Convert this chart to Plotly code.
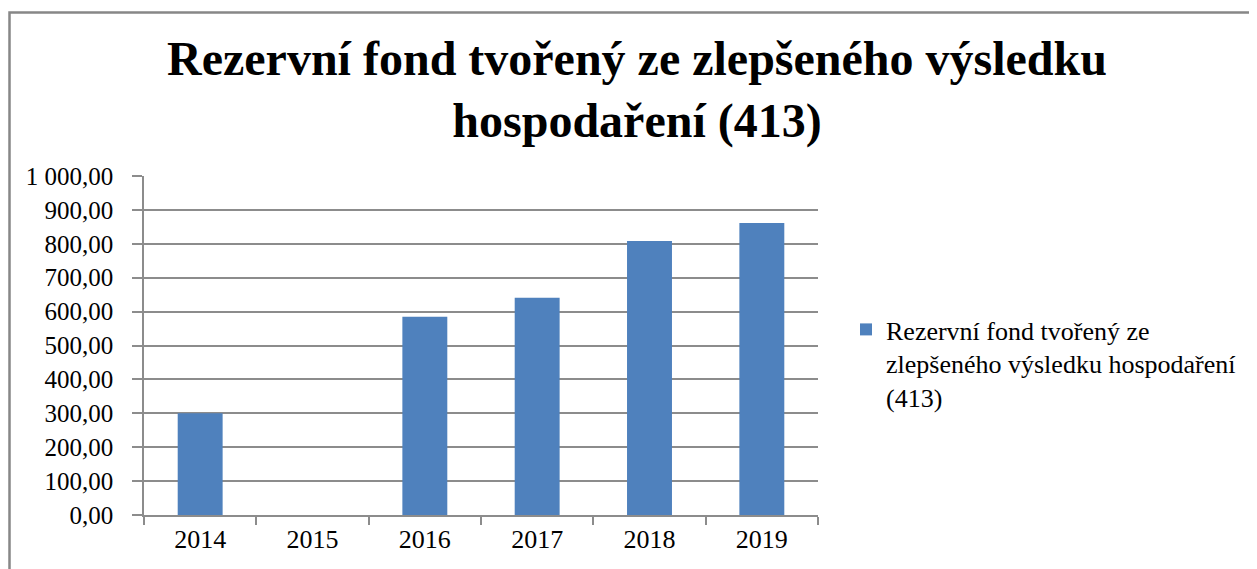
import plotly.graph_objects as go

years = ["2014", "2015", "2016", "2017", "2018", "2019"]
values = [300.0, 0.0, 585.0, 641.0, 808.0, 861.0]
series_name = "Rezervní fond tvořený ze<br>zlepšeného výsledku hospodaření<br>(413)"
title_text = "Rezervní fond tvořený ze zlepšeného výsledku<br>hospodaření (413)"
y_ticks = [0, 100, 200, 300, 400, 500, 600, 700, 800, 900, 1000]

# the page body adds an 8px offset; figure coordinates below are page px - 8
OFF = 8
W, H = 1257 - OFF, 569 - OFF
L, R, T, B = 144 - OFF, 818 - OFF, 176 - OFF, 515 - OFF  # plot area in px


def px_x(p):
    return (p - L) / (R - L)


def px_y(p):
    return (B - p) / (B - T)


FONT = "Liberation Serif, Times New Roman, serif"
GRID = "#8c8c8c"

fig = go.Figure()
fig.add_trace(go.Bar(
    x=years, y=values, name=series_name,
    marker=dict(color="#4F81BD", line=dict(width=0)),
    showlegend=True,
))

fig.update_layout(
    width=W, height=H,
    margin=dict(l=L, r=W - R, t=T, b=H - B, pad=0),
    paper_bgcolor="white", plot_bgcolor="white",
    separators=", ",
    bargap=0.6,
    font=dict(family=FONT, color="black", size=26),
    title=dict(
        text=title_text,
        font=dict(family=FONT, size=48, color="black", weight="bold"),
        x=(637 - OFF) / W, xanchor="center", xref="container",
        y=1 - 67 / H, yanchor="top", yref="container",
    ),
    xaxis=dict(
        type="category",
        showline=True, linecolor=GRID, linewidth=1.5,
        ticks="outside", tickson="boundaries", ticklen=8, tickcolor=GRID, tickwidth=1.5,
        tickfont=dict(family=FONT, size=26, color="black"),
        showgrid=False,
    ),
    yaxis=dict(
        range=[0, 1000],
        tickvals=y_ticks,
        tickformat=",.2f",
        showline=True, linecolor=GRID, linewidth=1.5,
        ticks="outside", ticklen=10, tickcolor=GRID, tickwidth=1.5,
        showgrid=True, gridcolor=GRID, gridwidth=1.5,
        tickfont=dict(family=FONT, size=25, color="black"),
        zeroline=False,
        ticklabelstandoff=14,
    ),
    legend=dict(
        x=px_x(838), xanchor="left",
        y=px_y(298), yanchor="top",
        font=dict(family=FONT, size=26, color="black"),
        valign="top",
        bgcolor="rgba(0,0,0,0)",
    ),
    shapes=[dict(
        type="rect", xref="paper", yref="paper",
        x0=px_x(1.5), x1=px_x(W + 20), y0=px_y(4.5), y1=px_y(H + 20),
        line=dict(color="#878787", width=2.5), fillcolor="rgba(0,0,0,0)",
        layer="below",
    )],
)

fig.write_html("out.html")
